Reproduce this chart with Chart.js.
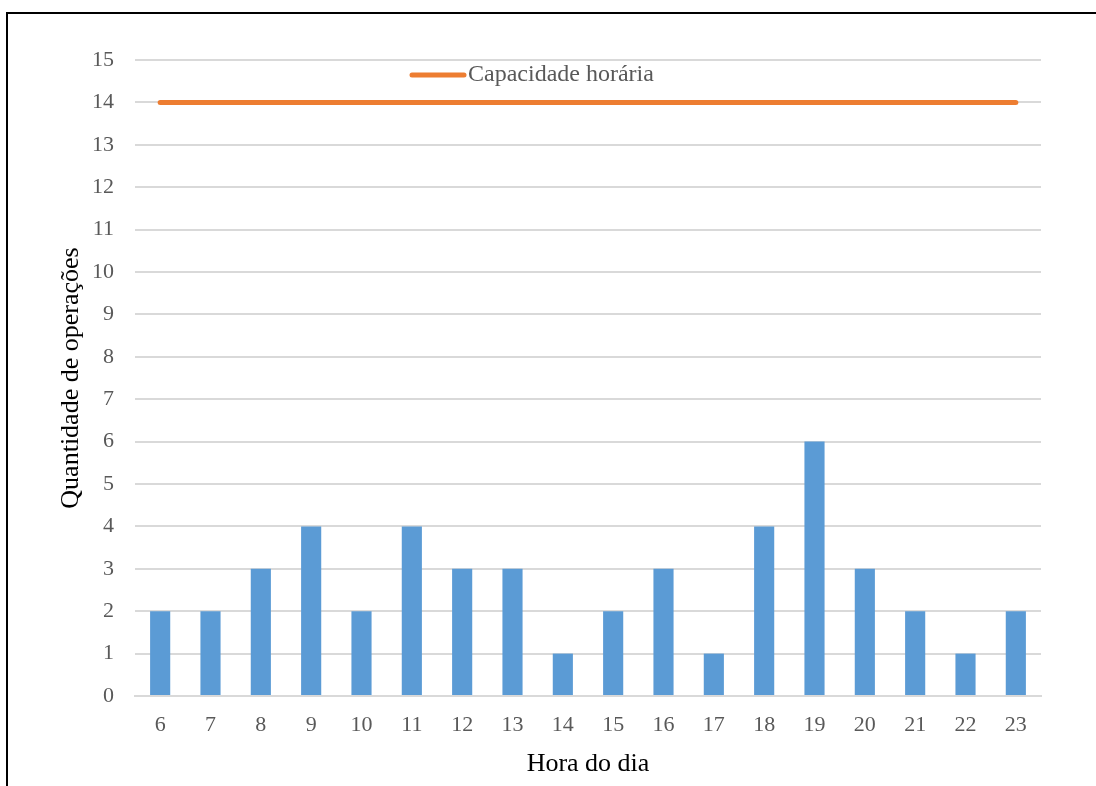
<!DOCTYPE html>
<html>
<head>
<meta charset="utf-8">
<script src="https://cdn.jsdelivr.net/npm/chart.js@4.4.1/dist/chart.umd.min.js"></script>
<style>
    body { margin: 0; background: #fff; }
    #wrap { position: relative; width: 1096px; height: 786px; overflow: hidden; }
    #frame {
        position: absolute; left: 6px; top: 12px; width: 2000px; height: 2000px;
        border-left: 2px solid #000; border-top: 2px solid #000;
    }
    canvas { position: absolute; left: 0; top: 0; }
</style>
</head>
<body>
<div id="wrap">
    <div id="frame"></div>
    <canvas id="chart" width="1096" height="786"></canvas>
</div>
<script>
const horas = ['6', '7', '8', '9', '10', '11', '12', '13', '14', '15', '16', '17', '18', '19', '20', '21', '22', '23'];
const operacoes = [2, 2, 3, 4, 2, 4, 3, 3, 1, 2, 3, 1, 4, 6, 3, 2, 1, 2];
const capacidade = [14, 14, 14, 14, 14, 14, 14, 14, 14, 14, 14, 14, 14, 14, 14, 14, 14, 14];
const legendaCapacidade = 'Capacidade horária';

const fonte = "'Liberation Serif', 'Times New Roman', serif";
const corTexto = '#595959';

// legenda desenhada por cima da área do gráfico
const legendaPlugin = {
    id: 'legendaCapacidade',
    afterDraw(chart) {
        const ctx = chart.ctx;
        const x = chart.chartArea.left + 277;
        const y = chart.chartArea.top + 15;
        ctx.save();
        ctx.strokeStyle = '#ED7D31';
        ctx.lineWidth = 5;
        ctx.lineCap = 'round';
        ctx.beginPath();
        ctx.moveTo(x, y);
        ctx.lineTo(x + 52, y);
        ctx.stroke();
        ctx.fillStyle = corTexto;
        ctx.font = '24px ' + fonte;
        ctx.textBaseline = 'middle';
        ctx.fillText(legendaCapacidade, x + 56, y);
        ctx.restore();
    }
};

const ctx = document.getElementById('chart').getContext('2d');
new Chart(ctx, {
    data: {
        labels: horas,
        datasets: [{
            type: 'line',
            label: legendaCapacidade,
            data: capacidade,
            borderColor: '#ED7D31',
            borderWidth: 5,
            borderCapStyle: 'round',
            pointRadius: 0,
            order: 0
        }, {
            type: 'bar',
            label: 'Operações',
            data: operacoes,
            backgroundColor: '#5B9BD5',
            barPercentage: 0.4,
            categoryPercentage: 1,
            order: 1
        }]
    },
    options: {
        responsive: false,
        animation: false,
        layout: { padding: { top: 60, right: 55, bottom: 0, left: 0 } },
        plugins: {
            legend: { display: false },
            tooltip: { enabled: false }
        },
        scales: {
            x: {
                grid: { display: false, drawTicks: false },
                border: { color: '#D9D9D9', width: 2 },
                ticks: { color: corTexto, font: { family: fonte, size: 22 }, padding: 16, maxRotation: 0 },
                title: { display: true, text: 'Hora do dia', color: '#000', font: { family: fonte, size: 26 }, padding: { top: 0, bottom: 6 } },
                afterFit(scale) { scale.height = 90; }
            },
            y: {
                min: 0,
                max: 15,
                grid: { color: '#D9D9D9', lineWidth: 2, drawTicks: false },
                border: { display: false },
                ticks: { stepSize: 1, color: corTexto, font: { family: fonte, size: 22 }, padding: 21 },
                title: { display: true, text: 'Quantidade de operações', color: '#000', font: { family: fonte, size: 26 }, padding: { top: 56, bottom: 0 } },
                afterFit(scale) { scale.width = 135; }
            }
        }
    },
    plugins: [legendaPlugin]
});
</script>
</body>
</html>
